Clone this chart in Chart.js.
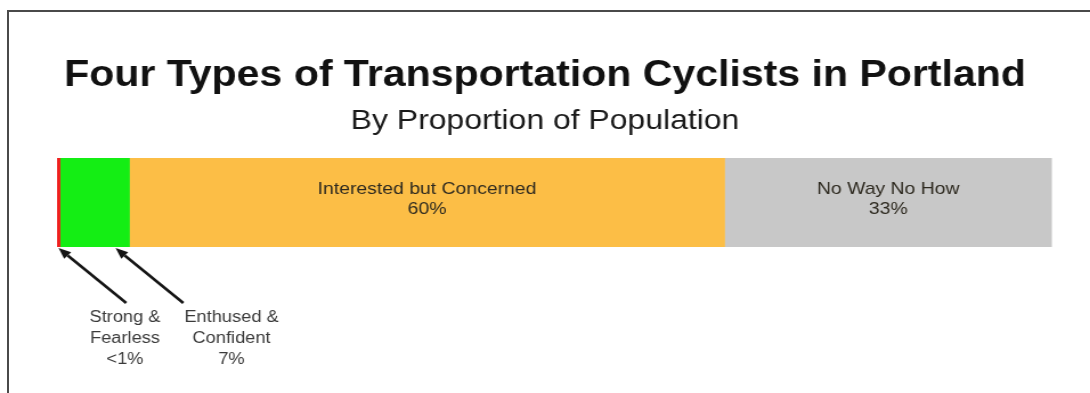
<!DOCTYPE html>
<html>
<head>
<meta charset="utf-8">
<script src="https://cdn.jsdelivr.net/npm/chart.js@4/dist/chart.umd.min.js"></script>
<style>
  html, body { margin: 0; padding: 0; background: #fff; overflow: hidden; }
  #wrap { position: relative; width: 1090px; height: 393px; }
  #frame {
    position: absolute; left: 7px; top: 10px; right: 0; bottom: 0;
    border-top: 2px solid #4a4a4a; border-left: 2px solid #4a4a4a;
  }
  /* the slide artwork is wider than tall, so the chart is drawn narrow and stretched */
  #typesChart { position: absolute; left: 0; top: 0; transform: scaleX(1.1402); transform-origin: 0 0; }
</style>
</head>
<body>
<div id="wrap">
  <canvas id="typesChart" width="956" height="393"></canvas>
  <div id="frame"></div>
</div>
<script>
// Cyclist types and their share of the population
const typeNames = [
  ["Strong &", "Fearless"],
  ["Enthused &", "Confident"],
  ["Interested but Concerned"],
  ["No Way No How"]
];
const typeShares = [0.3, 7, 60, 33];
const shareLabels = ["<1%", "7%", "60%", "33%"];
const typeColors = ["#f01e1e", "#14ee14", "#fcbe46", "#c8c8c8"];

// Which types get a label inside the bar, and which get an arrow callout below
const insideLabels = [2, 3];
const calloutLabels = [0, 1];

const totalShare = typeShares.reduce((a, b) => a + b, 0);

// Text on the bar segments and arrow callouts under the thin segments
const segmentLabels = {
  id: "segmentLabels",
  afterDatasetsDraw(chart, args, opts) {
    const ctx = chart.ctx;
    ctx.save();
    ctx.textAlign = "center";
    ctx.textBaseline = "middle";

    insideLabels.forEach((i) => {
      const bar = chart.getDatasetMeta(i).data[0];
      const cx = (bar.x + bar.base) / 2;
      const lines = typeNames[i].concat([shareLabels[i]]);
      ctx.font = opts.insideFont;
      ctx.fillStyle = opts.textColor;
      lines.forEach((t, k) => ctx.fillText(t, cx, bar.y - bar.height / 2 + opts.insideTop + k * opts.insideLine));
    });

    calloutLabels.forEach((i, n) => {
      const bar = chart.getDatasetMeta(i).data[0];
      const bottom = bar.y + bar.height / 2;
      const tipX = bar.base + (bar.x - bar.base) * opts.tipFrac[n];
      const tipY = bottom + 1;
      const tailX = tipX + opts.arrowDx;
      const tailY = tipY + opts.arrowDy;

      // arrow shaft
      const ang = Math.atan2(tipY - tailY, tipX - tailX);
      const headLen = 11, headW = 4.5;
      const baseX = tipX - Math.cos(ang) * headLen;
      const baseY = tipY - Math.sin(ang) * headLen;
      ctx.strokeStyle = "#151515";
      ctx.fillStyle = "#151515";
      ctx.lineWidth = 2.6;
      ctx.beginPath();
      ctx.moveTo(tailX, tailY);
      ctx.lineTo(baseX, baseY);
      ctx.stroke();
      // arrow head
      ctx.beginPath();
      ctx.moveTo(tipX, tipY);
      ctx.lineTo(baseX + Math.sin(ang) * headW, baseY - Math.cos(ang) * headW);
      ctx.lineTo(baseX - Math.sin(ang) * headW, baseY + Math.cos(ang) * headW);
      ctx.closePath();
      ctx.fill();

      // callout text
      const lines = typeNames[i].concat([shareLabels[i]]);
      ctx.font = opts.calloutFont;
      ctx.fillStyle = opts.calloutColor;
      lines.forEach((t, k) => ctx.fillText(t, tipX + opts.textDx[n], bottom + opts.calloutTop + k * opts.calloutLine));
    });
    ctx.restore();
  }
};

const ctx = document.getElementById("typesChart").getContext("2d");
const chart = new Chart(ctx, {
  type: "bar",
  data: {
    labels: [""],
    datasets: typeShares.map((v, i) => ({
      label: typeNames[i].join(" "),
      data: [v],
      backgroundColor: typeColors[i],
      borderWidth: 0,
      barPercentage: 1,
      categoryPercentage: 1
    }))
  },
  options: {
    indexAxis: "y",
    responsive: false,
    animation: false,
    // equal side padding keeps the titles centred; the empty y axis shifts the bar right
    layout: { padding: { top: 0, bottom: 146, left: 33.4, right: 33.4 } },
    scales: {
      x: { stacked: true, min: 0, max: totalShare, display: false },
      y: {
        stacked: true,
        grid: { display: false },
        border: { display: false },
        ticks: { display: false },
        afterFit: (scale) => { scale.width = 16.6; }
      }
    },
    plugins: {
      legend: { display: false },
      tooltip: { enabled: false },
      title: {
        display: true,
        text: "Four Types of Transportation Cyclists in Portland",
        color: "#111",
        font: { family: "'Liberation Sans', Arial, sans-serif", size: 36, weight: "bold" },
        padding: { top: 54.4, bottom: 3 }
      },
      subtitle: {
        display: true,
        text: "By Proportion of Population",
        color: "#1a1a1a",
        font: { family: "'Liberation Sans', Arial, sans-serif", size: 28, weight: "normal" },
        padding: { top: 4.1, bottom: 19.7 }
      },
      segmentLabels: {
        textColor: "#2e2a20",
        insideFont: "17px 'Liberation Sans', Arial, sans-serif",
        insideTop: 31,
        insideLine: 20,
        calloutFont: "16px 'Liberation Sans', Arial, sans-serif",
        calloutColor: "#3a3a3a",
        calloutTop: 71,
        calloutLine: 21,
        tipFrac: [0.5, 0.8],
        arrowDx: 59.4,
        arrowDy: 55,
        textDx: [58.3, 101.7]
      }
    }
  },
  plugins: [segmentLabels]
});
</script>
</body>
</html>
